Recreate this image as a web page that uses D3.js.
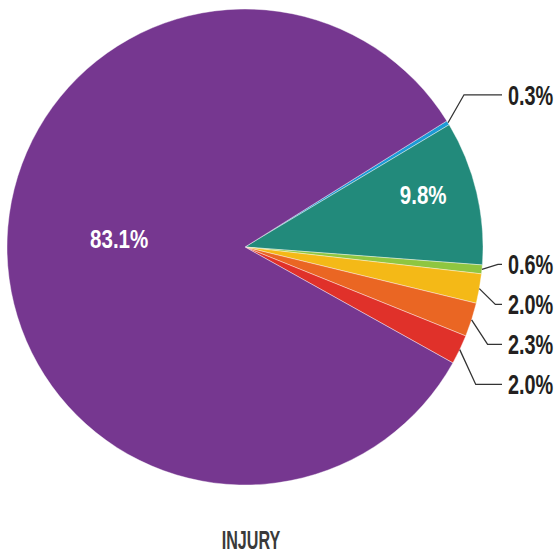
<!DOCTYPE html>
<html>
<head>
<meta charset="utf-8">
<script src="https://cdn.jsdelivr.net/npm/d3@7"></script>
<style>
	body { margin: 0; background: #fff; }
	text { font-family: "Liberation Sans", Arial, sans-serif; font-weight: bold; }
</style>
</head>
<body>
<div id="chart"></div>
<script>
// slices, clockwise from the thin blue one at the upper right
const values = [0.3, 9.8, 0.6, 2.0, 2.3, 2.0, 83.1];
const labels = ['0.3%', '9.8%', '0.6%', '2.0%', '2.3%', '2.0%', '83.1%'];
const colors = ['#1c9ad6', '#228a7b', '#8fc640', '#f4b917', '#ea6623', '#e0312a', '#763790'];
const inside = [false, true, false, false, false, false, true];
const title = 'INJURY';

document.addEventListener('DOMContentLoaded', () => {
	let width = 557, height = 556;
	let cx = 245, cy = 247, radius = 238;

	let svg = d3.select('#chart')
		.append('svg')
			.attr('width', width)
			.attr('height', height);

	let g = svg.append('g')
		.attr('transform', "translate(" + cx + ", " + cy + ")");

	let pie = d3.pie()
		.sort(null)
		.value((d) => d)
		.startAngle(58 * Math.PI / 180)
		.endAngle(418 * Math.PI / 180);

	let arcs = pie(values);

	let arc = d3.arc()
		.innerRadius(0)
		.outerRadius(radius);

	g.selectAll('path.slice')
		.data(arcs)
		.enter()
		.append('path')
			.attr('class', 'slice')
			.attr('d', arc)
			.attr('fill', (d, i) => colors[i])
			.attr('stroke', '#fff')
			.attr('stroke-width', 0.4);

	// labels inside the big slices (radius fraction, angle nudge in degrees)
	let innerR = [0, 0.78, 0, 0, 0, 0, 0.53];
	let nudge = [0, -3, 0, 0, 0, 0, 5.3];
	arcs.forEach((d, i) => {
		if (!inside[i]) return;
		let a = (d.startAngle + d.endAngle) / 2 + nudge[i] * Math.PI / 180;
		let r = innerR[i] * radius;
		g.append('text')
			.attr('transform', "translate(" + (Math.sin(a) * r) + ", " + (-Math.cos(a) * r) + ") scale(0.79, 1)")
			.attr('text-anchor', 'middle')
			.attr('dy', '0.35em')
			.attr('fill', '#fff')
			.style('font-size', '26px')
			.text(labels[i]);
	});

	// outside labels with elbow leaders, stacked down the right side
	let prevY = null;
	arcs.forEach((d, i) => {
		if (inside[i]) return;
		let a = (d.startAngle + d.endAngle) / 2;
		let sx = Math.sin(a) * radius, sy = -Math.cos(a) * radius;
		let ly;
		if (a < Math.PI / 2 - 0.2) {
			ly = sy - 28;
		} else if (prevY === null) {
			ly = sy - 5;
			prevY = ly;
		} else {
			ly = Math.max(sy, prevY + 40);
			prevY = ly;
		}
		let ex = sx + 16;
		let endX = 257;
		g.append('polyline')
			.attr('points', [[sx, sy], [ex, ly], [endX, ly]].map((p) => p.join(',')).join(' '))
			.attr('fill', 'none')
			.attr('stroke', '#333')
			.attr('stroke-width', 1.3);
		g.append('text')
			.attr('transform', "translate(" + (endX + 6) + ", " + ly + ") scale(0.71, 1)")
			.attr('dy', '0.35em')
			.attr('fill', '#231f20')
			.style('font-size', '28px')
			.text(labels[i]);
	});

	svg.append('text')
		.attr('transform', "translate(251, 540) scale(0.62, 1)")
		.attr('text-anchor', 'middle')
		.attr('dy', '0.35em')
		.attr('fill', '#3a3a3a')
		.style('font-size', '26px')
		.text(title);
});
</script>
</body>
</html>
